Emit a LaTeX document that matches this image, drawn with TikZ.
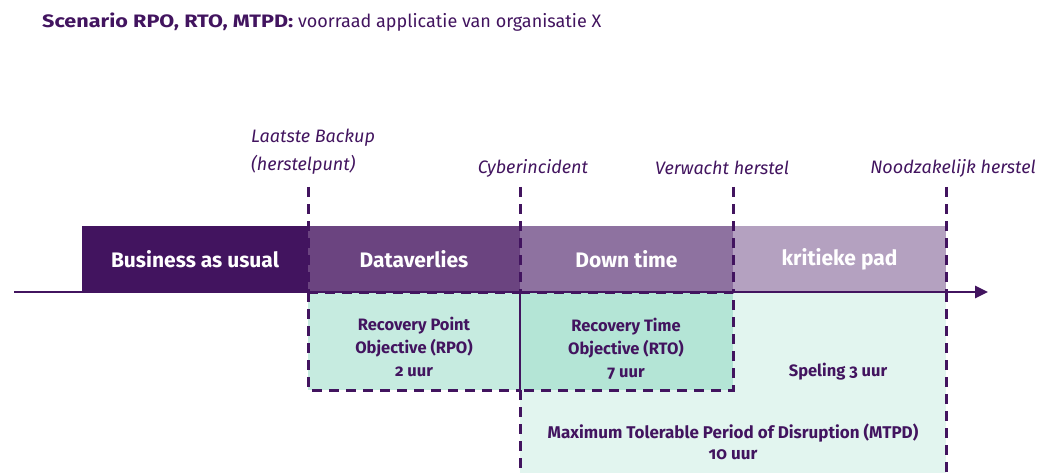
\documentclass[tikz,border=0pt]{standalone}
\usepackage{fontspec}
\setmainfont{Fira Sans}[Numbers=OldStyle]
\usetikzlibrary{arrows.meta}
\definecolor{rovio}{HTML}{42145F}
\definecolor{barB}{HTML}{6B4480}
\definecolor{barC}{HTML}{8E72A0}
\definecolor{barD}{HTML}{B4A1C0}
\definecolor{mintA}{HTML}{C6EBE0}
\definecolor{mintB}{HTML}{B4E5D6}
\definecolor{mintC}{HTML}{E2F5EF}
\tikzset{
  phase/.style={draw=none, inner sep=0pt, outer sep=0pt, minimum height=66pt,
    text=white, font=\fontsize{21}{24}\selectfont\bfseries},
  mark label/.style={text=rovio, inner sep=0pt, font=\fontsize{18}{21}\selectfont\itshape},
  boxtext/.style={text=rovio, align=center, inner sep=0pt, font=\fontsize{16.5}{23}\selectfont\bfseries},
  dashline/.style={draw=rovio, line width=3pt, dash pattern=on 10pt off 7pt},
}
\begin{document}
\begin{tikzpicture}[x=1pt,y=-1pt]
\useasboundingbox (0,0) rectangle (1038,473);

% title
\node[anchor=west, text=rovio, inner sep=0pt, font=\fontsize{18}{21}\selectfont] (title) at (42,22)
  {\scalebox{1.2}[1]{\bfseries Scenario RPO, RTO, MTPD:} voorraad applicatie van organisatie X};

% mint areas below the axis
\node[fill=mintC, inner sep=0pt, outer sep=0pt, anchor=north west, minimum width=426pt, minimum height=181pt] (mtpd) at (520,292) {};
\node[fill=mintA, inner sep=0pt, outer sep=0pt, anchor=north west, minimum width=212pt, minimum height=98pt] (rpo) at (308,292) {};
\node[fill=mintB, inner sep=0pt, outer sep=0pt, anchor=north west, minimum width=213pt, minimum height=98pt] (rto) at (520,292) {};

% phase bars
\node[phase, fill=rovio, minimum width=226pt] (bau) at (195,259) {Business as usual};
\node[phase, fill=barB, minimum width=212pt] (dv) at (414,259) {Dataverlies};
\node[phase, fill=barC, minimum width=213pt] (dt) at (626.5,259) {\raisebox{-2.5pt}{Down time}};
\node[phase, fill=barD, minimum width=213pt] (kp) at (839.5,259) {kritieke pad};

% time axis
\coordinate (axstart) at (14,292);
\coordinate (axend) at (988,292);
\draw[rovio, line width=2.6pt, -{Triangle[length=13pt,width=12pt]}] (axstart) -- (axend);

% moment labels
\node[mark label, anchor=west] (backup) at (251,138) {Laatste Backup};
\node[mark label, anchor=west] (punt) at (251,165) {(herstelpunt)};
\node[mark label] (cyber) at (533,168) {Cyberincident};
\node[mark label] (verwacht) at (722,168) {Verwacht herstel};
\node[mark label] (nood) at (953,168) {Noodzakelijk herstel};

% dashed marker lines
\coordinate (m1t) at (308,187);
\coordinate (m2t) at (520,187);
\coordinate (m3t) at (733,187);
\coordinate (m4t) at (946,187);
\draw[dashline] (m1t) -- (rpo.north west);
\draw[dashline] (m2t) -- (rpo.north east);
\draw[dashline] (m3t) -- (rto.north east);
\draw[dashline] (m4t) -- (mtpd.north east);

% dashed box outlines
\draw[dashline] (rpo.north west) -- (rpo.south west) -- (rpo.south east);
\draw[dashline] (rpo.north west) -- (rpo.north east);
\draw[rovio, line width=1.4pt] (rpo.north east) -- (rpo.south east);
\draw[dashline] (rto.north west) -- (rto.north east) -- (rto.south east) -- (rto.south west);
\draw[dashline] (rto.south west) -- (mtpd.south west);
\draw[dashline] (mtpd.north east) -- (mtpd.south east);

% box texts
\node[boxtext] (rpotext) at (414,347) {Recovery Point\\Objective (RPO)\\2 uur};
\node[boxtext] (rtotext) at (626,349) {Recovery Time\\Objective (RTO)\\7 uur};
\node[boxtext] (speling) at (838,372) {Speling 3 uur};
\node[boxtext, font=\fontsize{17}{21}\selectfont\bfseries] (mtpdtext) at (733,442) {Maximum Tolerable Period of Disruption (MTPD)\\10 uur};
\end{tikzpicture}
\end{document}
